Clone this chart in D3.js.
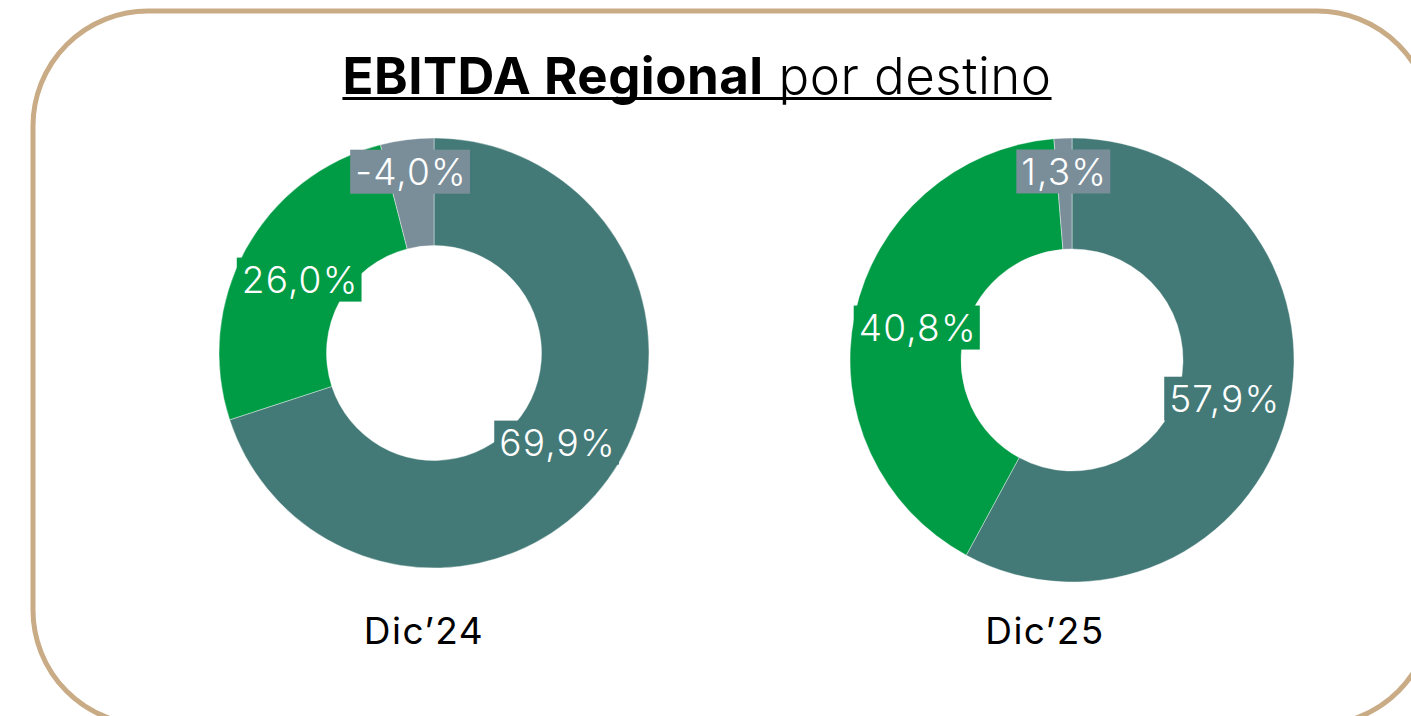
<!DOCTYPE html>
<html>
<head>
<meta charset="utf-8">
<script src="https://cdn.jsdelivr.net/npm/d3@7"></script>
<style>
  html, body { margin: 0; padding: 0; background: #fff; overflow: hidden; }
  svg { display: block; }
</style>
</head>
<body>
<div id="chart"></div>
<script>
// Data
const periods = ["Dic’24", "Dic’25"];
const destinos = ["principal", "secundario", "otros"];
const dic24 = [69.9, 26.0, -4.0];
const dic25 = [57.9, 40.8, 1.3];
const seriesValues = [dic24, dic25];

const colors = ["#437A77", "#009B45", "#7A8E9A"];

const W = 1411, H = 716;
const font = "Inter, 'Open Sans', sans-serif";

const svg = d3.select("#chart")
    .append("svg")
    .attr("width", W)
    .attr("height", H);

// Border frame
svg.append("rect")
    .attr("x", 33)
    .attr("y", 11)
    .attr("width", 1399)
    .attr("height", 714)
    .attr("rx", 115)
    .attr("ry", 115)
    .attr("fill", "none")
    .attr("stroke", "#C9AC86")
    .attr("stroke-width", 5);

// Title
const title = svg.append("text")
    .attr("x", 697)
    .attr("y", 94)
    .attr("text-anchor", "middle")
    .attr("font-family", font)
    .attr("font-size", 51)
    .attr("letter-spacing", 0.5)
    .attr("fill", "#000");
title.append("tspan").attr("font-weight", 700).text("EBITDA Regional");
title.append("tspan").attr("font-weight", 300).text(" por destino");

const tb = title.node().getBBox();
svg.append("rect")
    .attr("x", tb.x)
    .attr("y", 97)
    .attr("width", tb.width)
    .attr("height", 3)
    .attr("fill", "#000");

// Layout of the two donuts
const layout = [
    { cx: 434, cy: 353, r: 215, labelX: 424 },
    { cx: 1072, cy: 360, r: 222, labelX: 1045 }
];

const locale = d3.formatLocale({ decimal: ",", thousands: ".", grouping: [3], currency: ["", "€"], minus: "-" });
const fmt = v => locale.format(".1f")(v) + "%";

const pie = d3.pie()
    .sort(null)
    .value(d => Math.abs(d.value));

periods.forEach((p, i) => {
    const L = layout[i];
    const inner = L.r * 0.5;
    const data = destinos.map((k, j) => ({ key: k, value: seriesValues[i][j], color: colors[j] }));
    const arcs = pie(data);
    const total = d3.sum(data, d => Math.abs(d.value));

    const arc = d3.arc().innerRadius(inner).outerRadius(L.r);

    const g = svg.append("g")
        .attr("transform", `translate(${L.cx},${L.cy})`);

    g.selectAll("path")
        .data(arcs)
        .enter()
        .append("path")
        .attr("d", arc)
        .attr("fill", d => d.data.color)
        .attr("stroke", "#fff")
        .attr("stroke-width", 0.4);

    // Data labels with coloured box
    const lbl = g.selectAll(".lbl")
        .data(arcs)
        .enter()
        .append("g")
        .attr("class", "lbl")
        .attr("transform", d => {
            const small = Math.abs(d.data.value) / total < 0.05;
            const rr = small ? L.r * 0.85 : L.r * 0.71;
            const a = (d.startAngle + d.endAngle) / 2;
            return `translate(${rr * Math.sin(a)},${-rr * Math.cos(a)})`;
        });

    lbl.append("text")
        .attr("text-anchor", "middle")
        .attr("dy", "0.36em")
        .attr("font-family", font)
        .attr("font-weight", 300)
        .attr("font-size", 37)
        .attr("letter-spacing", 1.2)
        .attr("fill", "#fff")
        .text(d => fmt(d.data.value));

    lbl.each(function(d) {
        const t = d3.select(this).select("text");
        const b = t.node().getBBox();
        d3.select(this).insert("rect", "text")
            .attr("x", b.x - 5)
            .attr("y", -22)
            .attr("width", b.width + 8)
            .attr("height", 44)
            .attr("fill", d.data.color);
    });

    // Period label
    svg.append("text")
        .attr("x", L.labelX)
        .attr("y", 644)
        .attr("text-anchor", "middle")
        .attr("font-family", font)
        .attr("font-weight", 400)
        .attr("font-size", 37)
        .attr("letter-spacing", 1.5)
        .attr("fill", "#000")
        .text(p);
});
</script>
</body>
</html>
